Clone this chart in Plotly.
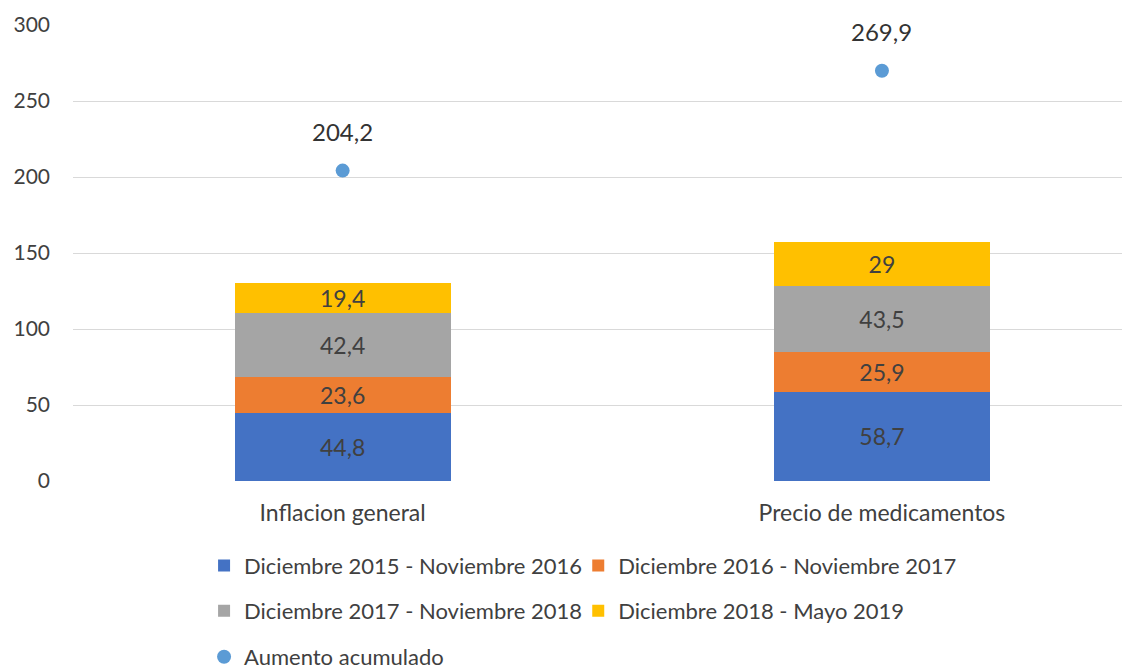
import plotly.graph_objects as go

categories = ["Inflacion general", "Precio de medicamentos"]
series_names = [
    "Diciembre 2015 - Noviembre 2016",
    "Diciembre 2016 - Noviembre 2017",
    "Diciembre 2017 - Noviembre 2018",
    "Diciembre 2018 - Mayo 2019",
]
series_values = [
    [44.8, 58.7],
    [23.6, 25.9],
    [42.4, 43.5],
    [19.4, 29.0],
]
series_colors = ["#4472C4", "#ED7D31", "#A5A5A5", "#FFC000"]
series_legends = ["legend", "legend4", "legend2", "legend5"]
accum_name = "Aumento acumulado"
accum_values = [204.2, 269.9]
y_ticks = [0, 50, 100, 150, 200, 250, 300]

FONT = "Lato"


def fmt(v):
    s = f"{v:.1f}".replace(".", ",")
    if s.endswith(",0"):
        s = s[:-2]
    return s


fig = go.Figure()
for name, vals, col, lg in zip(series_names, series_values, series_colors, series_legends):
    fig.add_trace(go.Bar(
        x=categories, y=vals, name=name,
        marker=dict(color=col, line=dict(width=0)),
        text=[fmt(v) for v in vals], textposition="inside",
        insidetextanchor="middle", constraintext="none",
        textfont=dict(family=FONT, size=23, color="#404040"),
        width=0.4, legend=lg,
    ))

fig.add_trace(go.Scatter(
    x=categories, y=accum_values, name=accum_name, mode="markers",
    marker=dict(color="#5B9BD5", size=14),
    legend="legend3",
))

for c, v in zip(categories, accum_values):
    fig.add_annotation(x=c, y=v, text=fmt(v), showarrow=False, yshift=39,
                       font=dict(family=FONT, size=24, color="#333333"))

legend_common = dict(
    orientation="h", xanchor="left", yanchor="middle", traceorder="normal",
    font=dict(family=FONT, size=22, color="#404040"),
    bgcolor="rgba(0,0,0,0)", itemclick=False,
)
X_LEFT = 0.124
X_RIGHT = 0.478
Y_ROWS = [-0.186, -0.285, -0.386]

fig.update_layout(
    width=1122, height=661,
    margin=dict(l=65, r=0, t=17, b=188, autoexpand=False),
    paper_bgcolor="white", plot_bgcolor="white",
    barmode="stack",
    font=dict(family=FONT, color="#595959"),
    xaxis=dict(range=[-0.5, 1.46], showgrid=False, zeroline=False, showline=False,
               tickfont=dict(family=FONT, size=23, color="#404040"),
               ticks="", ticklabelstandoff=16),
    yaxis=dict(range=[0, 300], tickvals=y_ticks, showgrid=True, gridcolor="#D9D9D9",
               gridwidth=1, zeroline=False, showline=False,
               tickfont=dict(family=FONT, size=21, color="#404040"),
               ticklabelstandoff=22),
    legend=dict(**legend_common, x=X_LEFT, y=Y_ROWS[0]),
    legend4=dict(**legend_common, x=X_RIGHT, y=Y_ROWS[0]),
    legend2=dict(**legend_common, x=X_LEFT, y=Y_ROWS[1]),
    legend5=dict(**legend_common, x=X_RIGHT, y=Y_ROWS[1]),
    legend3=dict(**legend_common, x=X_LEFT, y=Y_ROWS[2]),
    showlegend=True,
)

fig.write_html("out.html")
